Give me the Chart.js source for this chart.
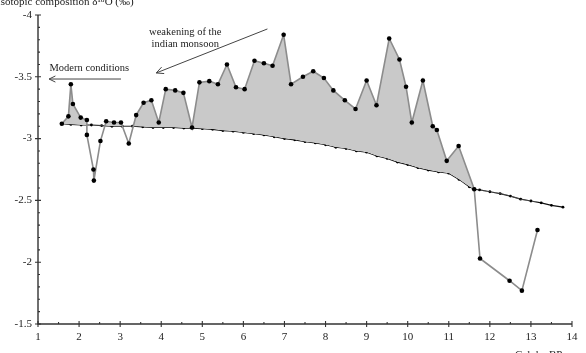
<!DOCTYPE html>
<html>
<head>
<meta charset="utf-8">
<script src="https://cdn.jsdelivr.net/npm/chart.js@4.4.1/dist/chart.umd.min.js"></script>
<style>
  html, body { margin: 0; padding: 0; background: #fff; }
  #wrap { width: 586px; height: 353px; }
</style>
</head>
<body>
<div id="wrap"><canvas id="isoChart" width="586" height="353"></canvas></div>
<script>
// measured record (grey line with diamonds)
const ageRecord = [1.58, 1.74, 1.80, 1.85, 2.04, 2.19, 2.19, 2.35, 2.36, 2.52, 2.66, 2.85, 3.02,
    3.21, 3.39, 3.57, 3.76, 3.94, 4.11, 4.34, 4.54, 4.75, 4.93, 5.17, 5.38, 5.60, 5.82, 6.03,
    6.27, 6.50, 6.71, 6.98, 7.16, 7.45, 7.70, 7.96, 8.19, 8.47, 8.73, 9.00, 9.24, 9.55, 9.80,
    9.96, 10.10, 10.37, 10.61, 10.71, 10.95, 11.24, 11.62, 11.76, 12.48, 12.78, 13.16];
const isoRecord = [-3.12, -3.18, -3.44, -3.28, -3.17, -3.15, -3.03, -2.75, -2.66, -2.98, -3.14, -3.13, -3.13,
    -2.96, -3.19, -3.29, -3.31, -3.13, -3.40, -3.39, -3.37, -3.09, -3.455, -3.465, -3.44, -3.60, -3.415, -3.40,
    -3.63, -3.61, -3.59, -3.84, -3.44, -3.50, -3.545, -3.49, -3.39, -3.31, -3.24, -3.47, -3.27, -3.81, -3.64,
    -3.42, -3.13, -3.47, -3.10, -3.07, -2.82, -2.94, -2.59, -2.03, -1.85, -1.77, -2.26];

// reference curve (black line with small dots)
const ageBase = [1.58, 1.80, 2.05, 2.30, 2.55, 2.80, 3.05, 3.30, 3.55, 3.80, 4.05, 4.30, 4.55, 4.75,
    5.00, 5.25, 5.50, 5.75, 6.00, 6.25, 6.50, 6.75, 7.00, 7.25, 7.50, 7.75, 8.00, 8.25, 8.50,
    8.75, 9.00, 9.25, 9.50, 9.75, 10.00, 10.25, 10.50, 10.75, 11.00, 11.25, 11.50, 11.62, 11.75,
    12.00, 12.25, 12.50, 12.75, 13.00, 13.25, 13.50, 13.78];
const isoBase = [-3.12, -3.115, -3.11, -3.11, -3.105, -3.10, -3.10, -3.10, -3.095, -3.09, -3.09, -3.09, -3.085, -3.085,
    -3.08, -3.075, -3.065, -3.06, -3.05, -3.04, -3.03, -3.015, -3.00, -2.99, -2.975, -2.965, -2.95, -2.93, -2.92,
    -2.90, -2.89, -2.86, -2.84, -2.81, -2.79, -2.765, -2.745, -2.73, -2.72, -2.67, -2.61, -2.59, -2.585,
    -2.57, -2.555, -2.535, -2.51, -2.495, -2.48, -2.46, -2.445];

const xTicks = [1, 2, 3, 4, 5, 6, 7, 8, 9, 10, 11, 12, 13, 14];
const yTicks = [-4, -3.5, -3, -2.5, -2, -1.5];

const serif = '"Liberation Serif", "DejaVu Serif", serif';

function toPoints(xs, ys) {
    return xs.map((x, i) => ({ x: x, y: ys[i] }));
}

function arrowHead(ctx, x0, y0, x1, y1, len) {
    const a = Math.atan2(y1 - y0, x1 - x0);
    ctx.beginPath();
    ctx.moveTo(x1 + len * Math.cos(a + Math.PI - 0.45), y1 + len * Math.sin(a + Math.PI - 0.45));
    ctx.lineTo(x1, y1);
    ctx.lineTo(x1 + len * Math.cos(a + Math.PI + 0.45), y1 + len * Math.sin(a + Math.PI + 0.45));
    ctx.stroke();
}

// axes with crossing major ticks and inner minor ticks, plus the text notes
const framePlugin = {
    id: 'frame',
    afterDraw(chart) {
        const ctx = chart.ctx;
        const xs = chart.scales.x, ys = chart.scales.y;
        const left = chart.chartArea.left, bottom = chart.chartArea.bottom;
        ctx.save();
        ctx.strokeStyle = '#333';
        ctx.lineWidth = 1.4;
        ctx.beginPath();
        ctx.moveTo(left, ys.getPixelForValue(-4));
        ctx.lineTo(left, bottom);
        ctx.lineTo(xs.getPixelForValue(14), bottom);
        ctx.stroke();

        ctx.lineWidth = 1.1;
        ctx.beginPath();
        for (let v = 1; v <= 14.001; v += 0.5) {
            const px = xs.getPixelForValue(v);
            const major = Math.abs(v - Math.round(v)) < 0.01;
            ctx.moveTo(px, bottom - (major ? 3 : 2));
            ctx.lineTo(px, bottom + (major ? 3 : 0));
        }
        for (let i = 0; i <= 25; i++) {
            const v = -4 + i * 0.1;
            const py = ys.getPixelForValue(v);
            const major = i % 5 === 0;
            ctx.moveTo(left - (major ? 3 : 0), py);
            ctx.lineTo(left + (major ? 3 : 2), py);
        }
        ctx.stroke();

        // notes
        ctx.fillStyle = '#222';
        ctx.strokeStyle = '#444';
        ctx.lineWidth = 1;
        ctx.font = '10.5px ' + serif;
        ctx.textAlign = 'center';
        ctx.textBaseline = 'middle';
        ctx.fillText('Modern conditions', xs.getPixelForValue(2.25), ys.getPixelForValue(-3.57));
        let ax0 = xs.getPixelForValue(3.02), ay0 = ys.getPixelForValue(-3.482);
        let ax1 = xs.getPixelForValue(1.27), ay1 = ay0;
        ctx.beginPath();
        ctx.moveTo(ax0, ay0);
        ctx.lineTo(ax1, ay1);
        ctx.stroke();
        arrowHead(ctx, ax0, ay0, ax1, ay1, 7);

        ctx.fillText('weakening of the', xs.getPixelForValue(4.585), ys.getPixelForValue(-3.862));
        ctx.fillText('indian monsoon', xs.getPixelForValue(4.585), ys.getPixelForValue(-3.765));
        ax0 = xs.getPixelForValue(6.585); ay0 = ys.getPixelForValue(-3.887);
        ax1 = xs.getPixelForValue(3.878); ay1 = ys.getPixelForValue(-3.531);
        ctx.beginPath();
        ctx.moveTo(ax0, ay0);
        ctx.lineTo(ax1, ay1);
        ctx.stroke();
        arrowHead(ctx, ax0, ay0, ax1, ay1, 8);

        // axis titles (partly outside the picture, as in the figure)
        ctx.font = '11px ' + serif;
        ctx.textAlign = 'left';
        ctx.textBaseline = 'alphabetic';
        ctx.fillText('Isotopic composition \u03b4\u00b9\u2078O (\u2030)', -3, 5);
        ctx.fillText('Cal. ka BP', 515, 358);
        ctx.restore();
    }
};

new Chart(document.getElementById('isoChart').getContext('2d'), {
    type: 'scatter',
    data: {
        datasets: [
            {
                label: 'record',
                data: toPoints(ageRecord, isoRecord),
                showLine: true,
                borderColor: '#8c8c8c',
                borderWidth: 1.6,
                pointRadius: 2.3,
                pointBackgroundColor: '#000',
                pointBorderColor: '#000',
                pointBorderWidth: 0,
                fill: { target: 1, above: '#c9c9c9', below: 'rgba(0,0,0,0)' }
            },
            {
                label: 'reference',
                data: toPoints(ageBase, isoBase),
                showLine: true,
                borderColor: '#111',
                borderWidth: 1.2,
                pointRadius: 1.4,
                pointBackgroundColor: '#000',
                pointBorderColor: '#000',
                pointBorderWidth: 0,
                fill: false
            }
        ]
    },
    options: {
        responsive: false,
        animation: false,
        layout: { padding: { left: 0, top: 15, right: 14, bottom: 0 } },
        plugins: {
            legend: { display: false },
            tooltip: { enabled: false }
        },
        scales: {
            x: {
                type: 'linear',
                min: 1,
                max: 14,
                afterFit: s => { s.height = 29; },
                afterBuildTicks: s => { s.ticks = xTicks.map(v => ({ value: v })); },
                grid: { display: false, drawTicks: false },
                border: { display: false },
                ticks: { padding: 7, color: '#222', font: { family: serif, size: 11 } }
            },
            y: {
                type: 'linear',
                min: -4,
                max: -1.5,
                reverse: true,
                afterFit: s => { s.width = 38; },
                afterBuildTicks: s => { s.ticks = yTicks.map(v => ({ value: v })); },
                grid: { display: false, drawTicks: false },
                border: { display: false },
                ticks: { padding: 6, color: '#222', font: { family: serif, size: 11 },
                    callback: v => String(v) }
            }
        }
    },
    plugins: [framePlugin]
});
</script>
</body>
</html>
